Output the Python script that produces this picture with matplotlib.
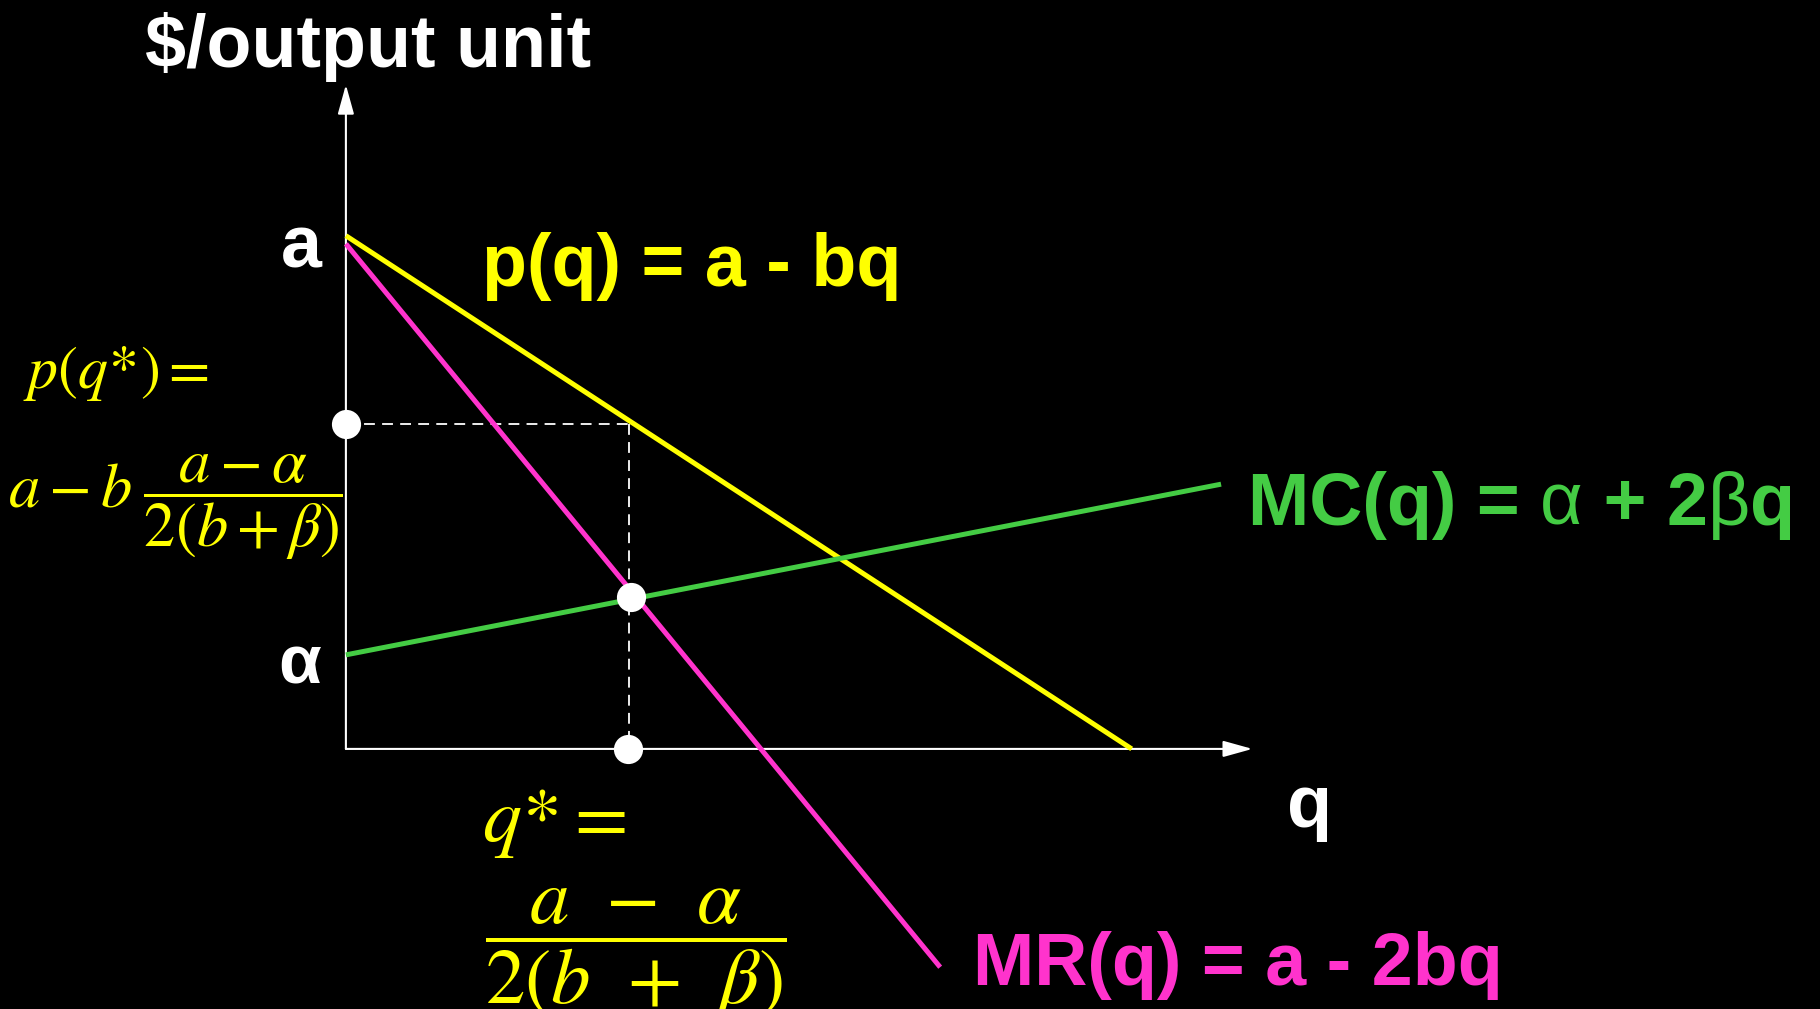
import matplotlib
matplotlib.use("Agg")
import matplotlib.pyplot as plt
from matplotlib.offsetbox import TextArea, HPacker, AnnotationBbox

# values (q and $ in arbitrary units, origin at the axes corner)
demand_q = [0.0, 6.77]
demand_p = [4.42, 0.0]
mr_q = [0.0, 5.12]
mr_p = [4.35, -1.88]
mc_q = [0.0, 7.54]
mc_p = [0.81, 2.28]
q_star = 2.44
p_star = 2.80
mc_at_q_star = 1.31
q_axis_end = 7.81
p_axis_end = 5.72

YELLOW = "#FFFF00"
MAGENTA = "#FF33CC"
GREEN = "#44CC44"
WHITE = "white"
SANS = "Liberation Sans"

plt.rcParams["mathtext.fontset"] = "stix"

fig = plt.figure(figsize=(18.2, 10.09), dpi=100, facecolor="black")
ax = fig.add_axes([0, 0, 1, 1])
ax.set_facecolor("black")
ax.set_xlim(-2.98, 12.70)
ax.set_ylim(-2.24, 6.45)
ax.axis("off")

# axes with arrow heads
arrow = dict(arrowstyle="-|>,head_length=1.8,head_width=0.5", color=WHITE,
             lw=1.5, shrinkA=0, shrinkB=0)
ax.annotate("", xy=(q_axis_end, 0), xytext=(0, 0), arrowprops=arrow)
ax.annotate("", xy=(0, p_axis_end), xytext=(0, 0), arrowprops=arrow)

# curves
ax.plot(demand_q, demand_p, color=YELLOW, lw=3.6, solid_capstyle="butt", zorder=3)
ax.plot(mr_q, mr_p, color=MAGENTA, lw=3.6, solid_capstyle="butt", zorder=3)
ax.plot(mc_q, mc_p, color=GREEN, lw=3.6, solid_capstyle="butt", zorder=3)

# dashed guides to the optimum
dash = dict(color=WHITE, lw=1.3, ls=(0, (6, 4)), zorder=2)
ax.plot([0, q_star], [p_star, p_star], **dash)
ax.plot([q_star, q_star], [p_star, 0], **dash)

ax.plot([0, q_star + 0.02, q_star - 0.01], [p_star, mc_at_q_star, 0], "o",
        color=WHITE, ms=21, mec="none", zorder=5)

# labels
ax.text(0.19, 5.87, "$/output unit", color=WHITE, fontsize=53, fontweight="bold",
        family=SANS, ha="center", va="baseline")
ax.text(-0.38, 4.15, "a", color=WHITE, fontsize=53, fontweight="bold",
        family=SANS, ha="center", va="baseline")
ax.text(-0.40, 0.56, "α", color=WHITE, fontsize=50, fontweight="bold",
        family=SANS, ha="center", va="baseline")
ax.text(8.30, -0.67, "q", color=WHITE, fontsize=53, fontweight="bold",
        family=SANS, ha="center", va="baseline")

ax.text(1.17, 3.99, "p(q) = a - bq", color=YELLOW, fontsize=53, fontweight="bold",
        family=SANS, ha="left", va="baseline")
ax.text(5.40, -2.03, "MR(q) = a - 2bq", color=MAGENTA, fontsize=53, fontweight="bold",
        family=SANS, ha="left", va="baseline")

parts = [("MC(q) = ", "bold"), ("α", "normal"), (" + 2", "bold"),
         ("β", "normal"), ("q", "bold")]
boxes = [TextArea(t, textprops=dict(color=GREEN, fontsize=53, fontweight=w, family=SANS))
         for t, w in parts]
pack = HPacker(children=boxes, align="baseline", pad=0, sep=0)
ax.add_artist(AnnotationBbox(pack, (7.77, 2.10), box_alignment=(0, 0.5),
                             frameon=False, pad=0))

# formulas for the optimum
ax.text(-2.78, 3.23, r"$p(q\!*\!) =$", color=YELLOW, fontsize=43,
        ha="left", va="center")
ax.text(-1.47, 2.09, r"$a - b\;\dfrac{a-\alpha}{2(b+\beta)}$", color=YELLOW,
        fontsize=45, ha="center", va="center")
ax.text(1.17, -0.63, r"$q\!*\!=$", color=YELLOW, fontsize=56,
        ha="left", va="center")
ax.text(2.50, -1.76, r"$\dfrac{a\;\,-\;\,\alpha}{2(b\;\,+\;\,\beta)}$", color=YELLOW,
        fontsize=57, ha="center", va="center")

fig.savefig("out.png", dpi=100, facecolor="black")
